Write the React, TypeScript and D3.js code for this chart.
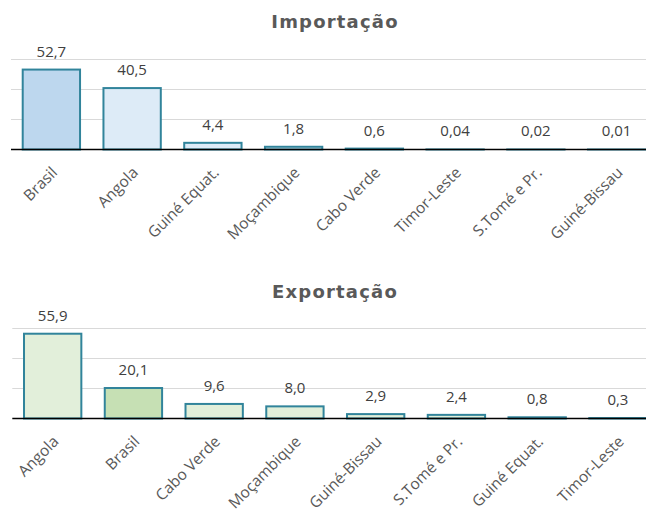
import React, { useEffect, useRef } from 'react'
import * as d3 from 'd3'

// Importação
const impCategories = ['Brasil', 'Angola', 'Guiné Equat.', 'Moçambique', 'Cabo Verde', 'Timor-Leste', 'S.Tomé e Pr.', 'Guiné-Bissau']
const impValues = [52.7, 40.5, 4.4, 1.8, 0.6, 0.04, 0.02, 0.01]
const impLabels = ['52,7', '40,5', '4,4', '1,8', '0,6', '0,04', '0,02', '0,01']

// Exportação
const expCategories = ['Angola', 'Brasil', 'Cabo Verde', 'Moçambique', 'Guiné-Bissau', 'S.Tomé e Pr.', 'Guiné Equat.', 'Timor-Leste']
const expValues = [55.9, 20.1, 9.6, 8.0, 2.9, 2.4, 0.8, 0.3]
const expLabels = ['55,9', '20,1', '9,6', '8,0', '2,9', '2,4', '0,8', '0,3']

const gridTicks = [20, 40, 60]

const drawPanel = (svg, opts) => {
  const { title, titleY, categories, values, labels, top, bottom, x0, fill, fillHi, hi } = opts
  const g = svg.append('g')

  g.append('text')
    .attr('x', 335)
    .attr('y', titleY)
    .attr('text-anchor', 'middle')
    .style('font-family', 'DejaVu Sans')
    .style('font-weight', 'bold')
    .style('font-size', '18px')
    .style('letter-spacing', '1.2px')
    .style('fill', '#595959')
    .text(title)

  const x = d3.scaleBand().domain(categories).range([x0, x0 + 646]).paddingInner(0.29).paddingOuter(0.145)
  const y = d3.scaleLinear().domain([0, 60]).range([bottom, top])

  g.selectAll('line.grid')
    .data(gridTicks)
    .enter()
    .append('line')
    .attr('class', 'grid')
    .attr('x1', x0)
    .attr('x2', 646)
    .attr('y1', (d) => Math.round(y(d)) + 0.5)
    .attr('y2', (d) => Math.round(y(d)) + 0.5)
    .attr('stroke', '#d9d9d9')
    .attr('stroke-width', 1)

  g.selectAll('rect')
    .data(values)
    .enter()
    .append('rect')
    .attr('x', (d, i) => x(categories[i]))
    .attr('width', x.bandwidth())
    .attr('y', (d) => y(d))
    .attr('height', (d) => bottom - y(d))
    .attr('fill', (d, i) => (i === hi ? fillHi : fill))
    .attr('stroke', '#31849b')
    .attr('stroke-width', 2)

  // eixo base
  g.append('line')
    .attr('x1', x0)
    .attr('x2', 646)
    .attr('y1', bottom)
    .attr('y2', bottom)
    .attr('stroke', '#000')
    .attr('stroke-width', 1.5)

  g.selectAll('text.val')
    .data(values)
    .enter()
    .append('text')
    .attr('class', 'val')
    .attr('x', (d, i) => x(categories[i]) + x.bandwidth() / 2)
    .attr('y', (d) => y(d) - 13)
    .attr('text-anchor', 'middle')
    .style('font-family', 'Open Sans')
    .style('font-size', '15px')
    .style('fill', '#404040')
    .text((d, i) => labels[i])

  g.selectAll('text.cat')
    .data(categories)
    .enter()
    .append('text')
    .attr('class', 'cat')
    .attr('transform', (d) => `translate(${x(d) + x.bandwidth() / 2 + 7}, ${bottom + 24}) rotate(-45)`)
    .attr('text-anchor', 'end')
    .style('font-family', 'Open Sans')
    .style('font-size', '15.5px')
    .style('fill', '#595959')
    .text((d) => d)
}

const App = () => {
  const svgRef = useRef()

  useEffect(() => {
    document.body.style.margin = '0'
    const svg = d3.select(svgRef.current)
    svg.selectAll('*').remove()

    drawPanel(svg, {
      title: 'Importação',
      titleY: 27.5,
      categories: impCategories,
      values: impValues,
      labels: impLabels,
      top: 58.5,
      bottom: 149.5,
      x0: 11,
      fill: '#ddebf7',
      fillHi: '#bdd7ee',
      hi: 0,
    })

    drawPanel(svg, {
      title: 'Exportação',
      titleY: 298,
      categories: expCategories,
      values: expValues,
      labels: expLabels,
      top: 327.5,
      bottom: 418.5,
      x0: 12.3,
      fill: '#e2efda',
      fillHi: '#c6e0b4',
      hi: 1,
    })
  }, [])

  return <svg ref={svgRef} width={646} height={510} style={{ display: 'block', background: '#fff' }}></svg>
}

export default App
